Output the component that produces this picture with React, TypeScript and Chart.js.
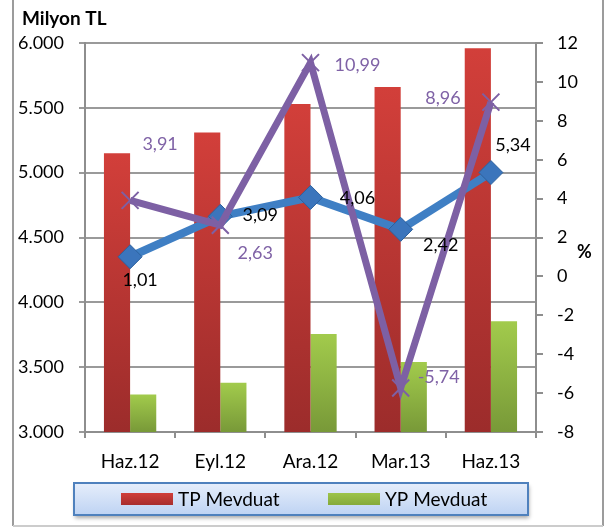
import React, { useEffect, useRef } from 'react';
import { Chart, registerables } from 'chart.js';

Chart.register(...registerables);

const categories = ['Haz.12', 'Eyl.12', 'Ara.12', 'Mar.13', 'Haz.13'];
const tpMevduat = [5150, 5310, 5530, 5660, 5960];
const ypMevduat = [3290, 3380, 3755, 3540, 3855];
const blueSeries = [1.01, 3.09, 4.06, 2.42, 5.34];
const purpleSeries = [3.91, 2.63, 10.99, -5.74, 8.96];
const leftAxis = { min: 3000, max: 6000, step: 500 };
const rightAxis = { min: -8, max: 12, step: 2 };
const seriesNames = ['TP Mevduat', 'YP Mevduat', 'Seri 3', 'Seri 4'];
const titleText = 'Milyon TL';
const rightUnit = '%';

// label offsets (styling only)
const blueLabelOffsets = [[10, 23], [40, -1], [47, 1], [40, 16], [22, -27]];
const purpleLabelOffsets = [[30, -56], [35, 28], [47, 3], [38, -11], [-48, -4]];

const FONT = 'Lato, "Open Sans", sans-serif';
const FS = 18;

const fmtThousands = (v: number) => String(v).replace(/\B(?=(\d{3})+(?!\d))/g, '.');
const fmtComma = (v: number) => v.toFixed(2).replace('.', ',');

function barGradient(top: string, bottom: string) {
  return (c: any) => {
    const chart = c.chart;
    const area = chart.chartArea;
    if (!area || c.raw === undefined) return top;
    const y = chart.scales.y.getPixelForValue(c.raw);
    const g = chart.ctx.createLinearGradient(0, y, 0, area.bottom);
    g.addColorStop(0, top);
    g.addColorStop(1, bottom);
    return g;
  };
}

const decorPlugin = {
  id: 'decor',
  beforeDraw(chart: any) {
    const { ctx, width, height } = chart;
    ctx.save();
    ctx.fillStyle = '#ffffff';
    ctx.fillRect(0, 0, width, height);
    ctx.strokeStyle = '#9c9c9c';
    ctx.lineWidth = 2;
    ctx.beginPath();
    ctx.moveTo(13, 0);
    ctx.lineTo(13, 526);
    ctx.moveTo(603, 0);
    ctx.lineTo(603, 526);
    ctx.stroke();
    ctx.strokeStyle = '#cccccc';
    ctx.beginPath();
    ctx.moveTo(13, 526);
    ctx.lineTo(603, 526);
    ctx.stroke();
    ctx.fillStyle = '#000';
    ctx.textBaseline = 'middle';
    ctx.textAlign = 'left';
    ctx.font = `bold 19px ${FONT}`;
    ctx.fillText(titleText, 22, 19);
    ctx.font = `bold ${FS}px ${FONT}`;
    ctx.fillText(rightUnit, 577, 252);
    ctx.restore();
  },
  afterDatasetsDraw(chart: any) {
    const { ctx } = chart;
    ctx.save();
    ctx.font = `${FS}px ${FONT}`;
    ctx.textAlign = 'center';
    ctx.textBaseline = 'middle';
    const draw = (dsIndex: number, values: number[], offs: number[][], color: string) => {
      const meta = chart.getDatasetMeta(dsIndex);
      ctx.fillStyle = color;
      meta.data.forEach((el: any, i: number) => {
        ctx.fillText(fmtComma(values[i]), el.x + offs[i][0], el.y + offs[i][1]);
      });
    };
    draw(2, blueSeries, blueLabelOffsets, '#000000');
    draw(3, purpleSeries, purpleLabelOffsets, '#7f62a6');
    ctx.restore();
  },
  afterDraw(chart: any) {
    const { ctx } = chart;
    ctx.save();
    const bx = 74, by = 483, bw = 454, bh = 32;
    ctx.shadowColor = 'rgba(0,0,0,0.35)';
    ctx.shadowBlur = 4;
    ctx.shadowOffsetX = 1;
    ctx.shadowOffsetY = 3;
    const g = ctx.createLinearGradient(0, by, 0, by + bh);
    g.addColorStop(0, '#e6eefb');
    g.addColorStop(1, '#bed3f3');
    ctx.fillStyle = g;
    ctx.fillRect(bx, by, bw, bh);
    ctx.shadowColor = 'transparent';
    ctx.strokeStyle = '#4f81bd';
    ctx.lineWidth = 2;
    ctx.strokeRect(bx, by, bw, bh);
    const items = [
      { x: 121, label: seriesNames[0], top: '#d03e3a', bottom: '#a82e2d' },
      { x: 328, label: seriesNames[1], top: '#9dc44a', bottom: '#86aa3a' },
    ];
    ctx.font = `19px ${FONT}`;
    ctx.textBaseline = 'middle';
    ctx.textAlign = 'left';
    items.forEach((it) => {
      const sg = ctx.createLinearGradient(0, 493, 0, 505);
      sg.addColorStop(0, it.top);
      sg.addColorStop(1, it.bottom);
      ctx.fillStyle = sg;
      ctx.fillRect(it.x, 493, 52, 12);
      ctx.fillStyle = '#000';
      ctx.fillText(it.label, it.x + 57, 500);
    });
    ctx.restore();
  },
};

export default function App() {
  const ref = useRef<HTMLCanvasElement | null>(null);
  useEffect(() => {
    if (!ref.current) return;
    const chart = new Chart(ref.current, {
      type: 'bar',
      data: {
        labels: categories,
        datasets: [
          {
            label: seriesNames[0],
            data: tpMevduat,
            backgroundColor: barGradient('#d23f3a', '#9c2c2b'),
            yAxisID: 'y',
            order: 3,
            categoryPercentage: 0.58,
            barPercentage: 1,
          } as any,
          {
            label: seriesNames[1],
            data: ypMevduat,
            backgroundColor: barGradient('#a2cb4c', '#789938'),
            yAxisID: 'y',
            order: 3,
            categoryPercentage: 0.58,
            barPercentage: 1,
          } as any,
          {
            type: 'line',
            label: seriesNames[2],
            data: blueSeries,
            yAxisID: 'y1',
            borderColor: '#3f7fc4',
            borderWidth: 8,
            tension: 0,
            pointStyle: 'rectRot',
            pointRadius: 12,
            pointBackgroundColor: '#3b75bc',
            pointBorderColor: '#2d619e',
            pointBorderWidth: 1,
            order: 2,
            clip: false,
          } as any,
          {
            type: 'line',
            label: seriesNames[3],
            data: purpleSeries,
            yAxisID: 'y1',
            borderColor: '#7d60a4',
            borderWidth: 7,
            tension: 0,
            pointStyle: 'crossRot',
            pointRadius: 12,
            pointBorderColor: '#7d60a4',
            pointBorderWidth: 2,
            order: 1,
            clip: false,
          } as any,
        ],
      },
      options: {
        responsive: false,
        animation: false,
        devicePixelRatio: 1,
        layout: { padding: { top: 43, left: 0, right: 0, bottom: 0 } },
        plugins: { legend: { display: false }, tooltip: { enabled: false } },
        scales: {
          x: {
            type: 'category',
            offset: true,
            grid: { offset: true, drawOnChartArea: false, drawTicks: true, tickLength: 6, color: '#8e8e8e', lineWidth: 2 },
            border: { color: '#8e8e8e', width: 2 },
            ticks: { color: '#000', font: { family: FONT, size: 19 }, padding: 12, maxRotation: 0 },
            afterFit: (s: any) => { s.height = 95; },
          },
          y: {
            position: 'left',
            min: leftAxis.min,
            max: leftAxis.max,
            grid: { color: '#9a9a9a', lineWidth: 2, tickLength: 6 },
            border: { color: '#8e8e8e', width: 2 },
            ticks: {
              stepSize: leftAxis.step,
              color: '#000',
              font: { family: FONT, size: FS },
              padding: 15,
              callback: (v: any) => fmtThousands(Number(v)),
            },
            afterFit: (s: any) => { s.width = 85; },
          },
          y1: {
            position: 'right',
            min: rightAxis.min,
            max: rightAxis.max,
            grid: { drawOnChartArea: false, color: '#8e8e8e', lineWidth: 2, tickLength: 7 },
            border: { color: '#8e8e8e', width: 2 },
            ticks: {
              stepSize: rightAxis.step,
              color: '#000',
              font: { family: FONT, size: FS },
              padding: 14,
            },
            afterFit: (s: any) => { s.width = 78; },
          },
        },
      },
      plugins: [decorPlugin],
    });
    return () => chart.destroy();
  }, []);
  return (
    <div style={{ position: 'absolute', left: 0, top: 0, width: 614, height: 527 }}>
      <canvas ref={ref} width={614} height={527} style={{ display: 'block' }} />
    </div>
  );
}
